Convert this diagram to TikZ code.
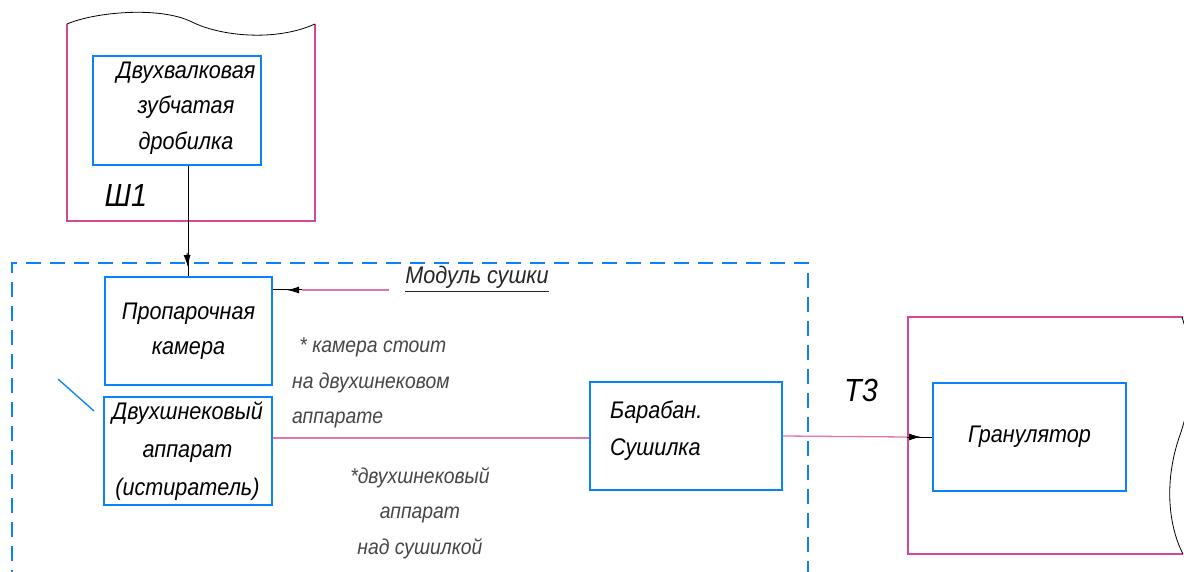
\documentclass[tikz,border=0pt]{standalone}
\usepackage{fontspec}
\setmainfont{Liberation Sans}[FakeStretch=0.9]
\usetikzlibrary{arrows.meta,calc}
\definecolor{cblue}{RGB}{10,130,250}
\definecolor{cpink}{RGB}{212,70,150}
\definecolor{cpinkl}{RGB}{222,120,170}
\definecolor{cgray}{RGB}{70,70,70}
\begin{document}
\begin{tikzpicture}[x=1pt,y=-1pt,
  box/.style={draw=cblue, line width=2pt, inner sep=0pt, align=center,
    font=\fontsize{24}{35}\selectfont\itshape},
  txt/.style={inner sep=0pt, font=\fontsize{24}{37}\selectfont\itshape},
  note/.style={inner sep=0pt, text=cgray, font=\fontsize{21.5}{35.5}\selectfont\itshape},
  big/.style={inner sep=0pt, font=\fontsize{32}{36}\selectfont\itshape},
  frame/.style={draw=cpink, line width=1.2pt},
  pinkline/.style={draw=cpinkl, line width=1.3pt},
  conn/.style={draw=black, line width=1pt},
  tipst/.style={draw=black, line width=1pt, -{Latex[length=12pt,width=7pt]}}
]
\useasboundingbox (0,0) rectangle (1184,572);
\clip (0,0) rectangle (1184,572);

% frames
\draw[frame] (67,24) -- (67,221) -- (315,221) -- (315,24);
\draw[black, line width=0.8pt] (67,24) .. controls (95,12) and (160,6) .. (192,22)
   .. controls (220,36) and (275,42) .. (315,24);
\draw[frame] (1183,317) -- (908,317) -- (908,554) -- (1183,554);
\draw[black, line width=0.8pt] (1182,317) .. controls (1196,360) and (1192,400) .. (1180,435)
   .. controls (1164,480) and (1168,525) .. (1183,554);
\draw[cblue, line width=2pt, dash pattern=on 15pt off 9pt] (12,585) -- (12,263) -- (808,263) -- (808,585);

% boxes
\node[box, minimum width=168pt, minimum height=109pt] (drob) at (177,110.5) {};
\node[txt, align=center, font=\fontsize{24}{35.5}\selectfont\itshape] (drobtxt) at (186,108) {Двухвалковая\\зубчатая\\дробилка};
\node[box, minimum width=167pt, minimum height=107pt] (prop) at (188.5,331) {Пропарочная\\камера};
\node[box, minimum width=168pt, minimum height=108pt, font=\fontsize{24}{38}\selectfont\itshape] (dvush) at (187.5,451) {Двухшнековый\\аппарат\\(истиратель)};
\node[box, minimum width=192pt, minimum height=108pt] (bar) at (686,436) {};
\node[txt, align=left, anchor=west] (bartxt) at (610,431) {Барабан.\\Сушилка};
\node[box, minimum width=193pt, minimum height=108pt] (gran) at (1029.5,437) {Гранулятор};

% labels
\node[big] (sh1) at (126,195) {Ш1};
\node[big] (t3) at (861,390) {Т3};
\node[txt, text=black!85] (mod) at (477,277) {Модуль сушки};
\draw[black!85, line width=0.9pt] ($(mod.south west)+(0,3)$) -- ($(mod.south east)+(0,3)$);
\node[note, align=left, anchor=west] (note1) at (292,383) {\,\,* камера стоит\\на двухшнековом\\аппарате};
\node[note, align=center] (note2) at (420,513) {*двухшнековый\\аппарат\\над сушилкой};

% slash
\draw[cblue, line width=1.3pt] (58,379) -- (94,411);

% connectors
\coordinate (a1) at (187,253);
\draw[conn] (drob.south -| prop.north) -- (prop.north);
\draw[tipst] (a1) -- ($(a1)!14pt!(prop.north)$);

\coordinate (p1) at (389,290);
\coordinate (p2) at (302,290);
\coordinate (pe) at (prop.east |- p2);
\draw[pinkline] (p1) -- (p2);
\draw[conn] (p2) -- (pe);
\draw[tipst] (p2) -- ($(p2)!15pt!(pe)$);

\coordinate (d1) at ($(dvush.east)+(0,-13)$);
\draw[pinkline] (d1) -- (bar.west |- d1);

\coordinate (g1) at (907,437);
\draw[pinkline] (bar.east) -- (g1);
\draw[conn] (g1) -- (gran.west);
\draw[tipst] (g1) -- ($(g1)!14pt!(gran.west)$);
\end{tikzpicture}
\end{document}
